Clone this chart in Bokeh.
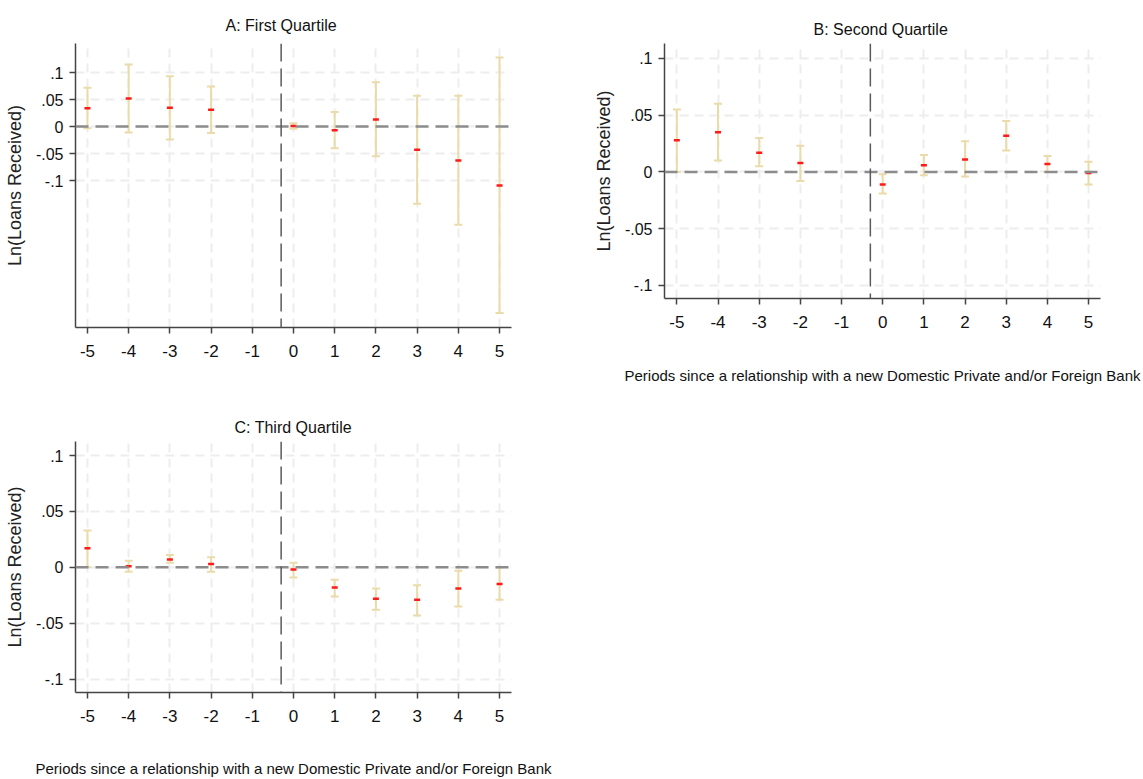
from bokeh.plotting import figure
from bokeh.models import ColumnDataSource, Whisker, FixedTicker, Span, Range1d, TeeHead, Title
from bokeh.embed import file_html
from bokeh.resources import INLINE

# ---------------- data ----------------
periods = [-5, -4, -3, -2, 0, 1, 2, 3, 4, 5]
x_ticks = [-5, -4, -3, -2, -1, 0, 1, 2, 3, 4, 5]
x_tick_labels = ["-5", "-4", "-3", "-2", "-1", "0", "1", "2", "3", "4", "5"]
y_ticks = [-0.1, -0.05, 0, 0.05, 0.1]
y_tick_labels = ["-.1", "-.05", "0", ".05", ".1"]
event_line = -0.3

a_est = [0.034, 0.052, 0.035, 0.031, 0.001, -0.007, 0.013, -0.043, -0.063, -0.109]
a_hi = [0.072, 0.115, 0.093, 0.074, 0.006, 0.027, 0.082, 0.057, 0.057, 0.128]
a_lo = [-0.003, -0.011, -0.024, -0.012, -0.004, -0.040, -0.055, -0.143, -0.182, -0.345]

b_est = [0.028, 0.035, 0.017, 0.008, -0.011, 0.006, 0.011, 0.032, 0.007, -0.001]
b_hi = [0.055, 0.060, 0.030, 0.023, -0.002, 0.015, 0.027, 0.045, 0.014, 0.009]
b_lo = [0.000, 0.010, 0.005, -0.008, -0.019, -0.003, -0.004, 0.019, 0.000, -0.011]

c_est = [0.017, 0.001, 0.007, 0.003, -0.002, -0.018, -0.028, -0.029, -0.019, -0.015]
c_hi = [0.033, 0.006, 0.011, 0.009, 0.004, -0.011, -0.019, -0.016, -0.003, 0.000]
c_lo = [0.000, -0.004, 0.004, -0.004, -0.009, -0.026, -0.038, -0.043, -0.035, -0.029]

titles = ["A: First Quartile", "B: Second Quartile", "C: Third Quartile"]
y_label = "Ln(Loans Received)"
x_label = "Periods since a relationship with a new Domestic Private and/or Foreign Bank"

FONT = "Liberation Sans"
BAR = "#e9dcaa"


def panel(title, est, hi, lo, width, height, borders, xr, yr, xlab, xlab_standoff,
          toff, tstand, left_px, top_px):
    left, right, top, bottom = borders
    p = figure(width=width, height=height, x_range=Range1d(*xr), y_range=Range1d(*yr),
               output_backend="svg", toolbar_location=None,
               min_border_left=left, min_border_right=right,
               min_border_top=top, min_border_bottom=bottom,
               styles={"position": "absolute", "left": f"{left_px}px", "top": f"{top_px}px"})
    p.outline_line_color = None
    p.background_fill_color = "white"
    p.border_fill_color = "white"

    t = Title(text=title, align="left", text_font=FONT, text_font_size="16px",
              text_font_style="normal", text_color="#111111", offset=toff, standoff=tstand)
    p.add_layout(t, "above")

    xt = FixedTicker(ticks=x_ticks)
    yt = FixedTicker(ticks=y_ticks)
    p.xaxis.ticker = xt
    p.yaxis.ticker = yt
    p.xgrid.ticker = xt
    p.ygrid.ticker = yt
    p.xaxis.major_label_overrides = {v: s for v, s in zip(x_ticks, x_tick_labels)}
    p.yaxis.major_label_overrides = {v: s for v, s in zip(y_ticks, y_tick_labels)}
    p.yaxis.major_label_orientation = "horizontal"

    for ax in (p.xaxis[0], p.yaxis[0]):
        ax.axis_line_color = "#444444"
        ax.axis_line_width = 1.5
        ax.major_tick_line_color = "#444444"
        ax.major_tick_line_width = 1.5
        ax.major_tick_in = 0
        ax.major_tick_out = 6
        ax.minor_tick_line_color = None
        ax.major_label_text_font = FONT
        ax.major_label_text_color = "#111111"
    p.yaxis.major_label_text_font_size = "16px"
    p.xaxis.major_label_text_font_size = "17px"
    p.yaxis.major_label_standoff = 6
    p.xaxis.major_label_standoff = 11
    p.yaxis.axis_label = y_label
    p.yaxis.axis_label_text_font = FONT
    p.yaxis.axis_label_text_font_size = "18px"
    p.yaxis.axis_label_text_font_style = "normal"
    p.yaxis.axis_label_text_color = "#222222"
    p.yaxis.axis_label_standoff = 8
    if xlab:
        p.xaxis.axis_label = xlab
        p.xaxis.axis_label_text_font = FONT
        p.xaxis.axis_label_text_font_size = "15px"
        p.xaxis.axis_label_text_font_style = "normal"
        p.xaxis.axis_label_text_color = "#111111"
        p.xaxis.axis_label_standoff = xlab_standoff

    for g in (p.xgrid[0], p.ygrid[0]):
        g.grid_line_color = "#ededed"
        g.grid_line_width = 2
        g.grid_line_dash = "9 6"

    p.add_layout(Span(location=0, dimension="width", line_color="#8c8c8c",
                      line_width=2.5, line_dash="13 7"))
    p.add_layout(Span(location=event_line, dimension="height", line_color="#5a5a5a",
                      line_width=1.5, line_dash="18 7"))

    src = ColumnDataSource(dict(x=periods, est=est, hi=hi, lo=lo))
    w = Whisker(source=src, base="x", upper="hi", lower="lo",
                line_color=BAR, line_width=2,
                upper_head=TeeHead(size=8, line_color=BAR, line_width=2),
                lower_head=TeeHead(size=8, line_color=BAR, line_width=2))
    p.add_layout(w)
    p.scatter("x", "est", source=src, marker="dash", size=6,
              line_color="#ff1a1a", line_width=2.5)
    return p


pa = panel(titles[0], a_est, a_hi, a_lo, 590, 400, (75, 79, 43, 73),
           (-5.29, 5.29), (-0.372, 0.1537), None, 0, 150, 20, 0, 0)
pb = panel(titles[1], b_est, b_hi, b_lo, 553, 400, (70, 43, 43, 102),
           (-5.3, 5.29), (-0.1115, 0.1132), x_label, 36, 149, 11, 590, 0)
pc = panel(titles[2], c_est, c_hi, c_lo, 590, 379, (75, 79, 41, 83),
           (-5.29, 5.29), (-0.112, 0.1126), x_label, 35, 159, 12, 0, 400)

open("out.html", "w").write(file_html([pa, pb, pc], INLINE))
